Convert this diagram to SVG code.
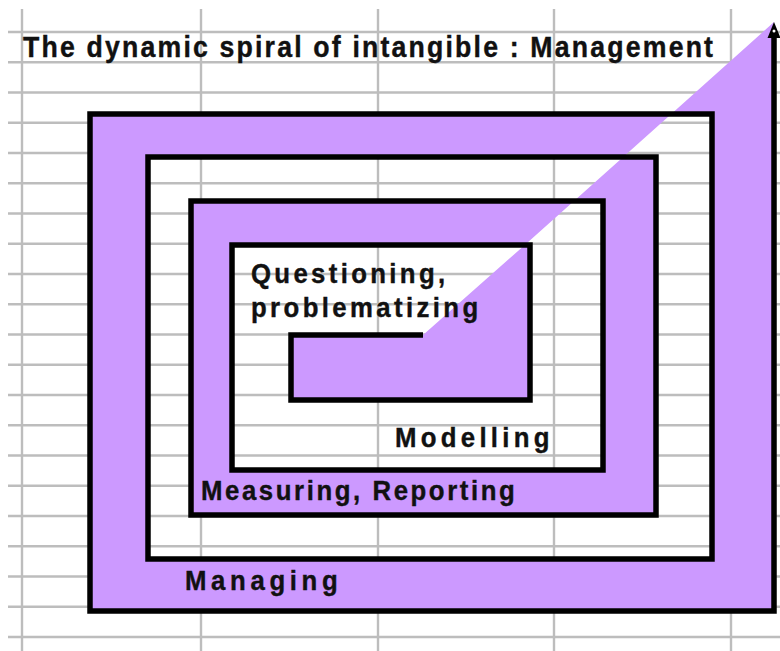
<svg xmlns="http://www.w3.org/2000/svg" width="780" height="651" viewBox="0 0 780 651">
  <style>
    .grid line { stroke: #bdbdbd; stroke-width: 2.4; }
    .band { fill: #cc99ff; stroke: none; }
    .edge { fill: none; stroke: #000; stroke-width: 5.5; stroke-linejoin: miter; }
    .lbl { font-family: "Liberation Sans", Arial, sans-serif; font-weight: bold; fill: #111; stroke: #111; stroke-width: 0.4; }
  </style>
  <rect x="0" y="0" width="780" height="651" fill="#fff"/>

  <!-- spreadsheet grid in the background -->
  <g id="grid" class="grid">
    <line x1="22" y1="9" x2="22" y2="651"/>
    <line x1="201" y1="9" x2="201" y2="651"/>
    <line x1="378" y1="9" x2="378" y2="651"/>
    <line x1="554" y1="9" x2="554" y2="651"/>
    <line x1="731" y1="9" x2="731" y2="651"/>
    <line x1="8" y1="32" x2="780" y2="32"/>
    <line x1="8" y1="62.3" x2="780" y2="62.3"/>
    <line x1="8" y1="92.5" x2="780" y2="92.5"/>
    <line x1="8" y1="122.8" x2="780" y2="122.8"/>
    <line x1="8" y1="153" x2="780" y2="153"/>
    <line x1="8" y1="183.3" x2="780" y2="183.3"/>
    <line x1="8" y1="213.5" x2="780" y2="213.5"/>
    <line x1="8" y1="243.8" x2="780" y2="243.8"/>
    <line x1="8" y1="274" x2="780" y2="274"/>
    <line x1="8" y1="304.3" x2="780" y2="304.3"/>
    <line x1="8" y1="334.5" x2="780" y2="334.5"/>
    <line x1="8" y1="364.8" x2="780" y2="364.8"/>
    <line x1="8" y1="395" x2="780" y2="395"/>
    <line x1="8" y1="425.3" x2="780" y2="425.3"/>
    <line x1="8" y1="455.5" x2="780" y2="455.5"/>
    <line x1="8" y1="485.8" x2="780" y2="485.8"/>
    <line x1="8" y1="516" x2="780" y2="516"/>
    <line x1="8" y1="546.3" x2="780" y2="546.3"/>
    <line x1="8" y1="576.5" x2="780" y2="576.5"/>
    <line x1="8" y1="606.8" x2="780" y2="606.8"/>
    <line x1="8" y1="637" x2="780" y2="637"/>
  </g>

  <!-- purple turns of the spiral; colours swap along the diagonal -->
  <g id="bands">
    <path id="band-outer" class="band" d="M90,114 V611 H774 V22 L671.3,114 H712 V559 H148 V157 H623.2 L671.3,114 Z"/>
    <path id="band-middle" class="band" d="M191,201 V515 H656 V157 H623.2 L574,201 H603 V470 H232 V245 H524.8 L574,201 Z"/>
    <path id="band-core" class="band" d="M291,335 H423 L524.8,245 H530 V400 H291 Z"/>
  </g>

  <!-- black spiral outline ending in the arrow at the top right -->
  <g id="outline">
    <path class="edge" d="M423,335 H291 V400 H530 V245 H232 V470 H603 V201 H191 V515 H656 V157 H148 V559 H712 V114 H90 V611 H774 V36"/>
    <polygon points="774,22 767.5,38 780.5,38" fill="#000"/>
    <circle cx="774" cy="31" r="1.5" fill="#fff"/>
  </g>

  <!-- labels: slightly narrowed bold sans, letter-spaced to their widths -->
  <g id="title">
    <text class="lbl" transform="translate(23,57) scale(0.92,1)" font-size="29" textLength="750" lengthAdjust="spacing">The dynamic spiral of intangible : Management</text>
  </g>
  <g id="label-questioning">
    <text class="lbl" transform="translate(251,283) scale(0.92,1)" font-size="28" textLength="211" lengthAdjust="spacing">Questioning,</text>
    <text class="lbl" transform="translate(251,317) scale(0.92,1)" font-size="28" textLength="247" lengthAdjust="spacing">problematizing</text>
  </g>
  <g id="label-modelling">
    <text class="lbl" transform="translate(395,447) scale(0.92,1)" font-size="28" textLength="168" lengthAdjust="spacing">Modelling</text>
  </g>
  <g id="label-measuring">
    <text class="lbl" transform="translate(201,500) scale(0.92,1)" font-size="28" textLength="341" lengthAdjust="spacing">Measuring, Reporting</text>
  </g>
  <g id="label-managing">
    <text class="lbl" transform="translate(185,590) scale(0.92,1)" font-size="28" textLength="166" lengthAdjust="spacing">Managing</text>
  </g>
</svg>
